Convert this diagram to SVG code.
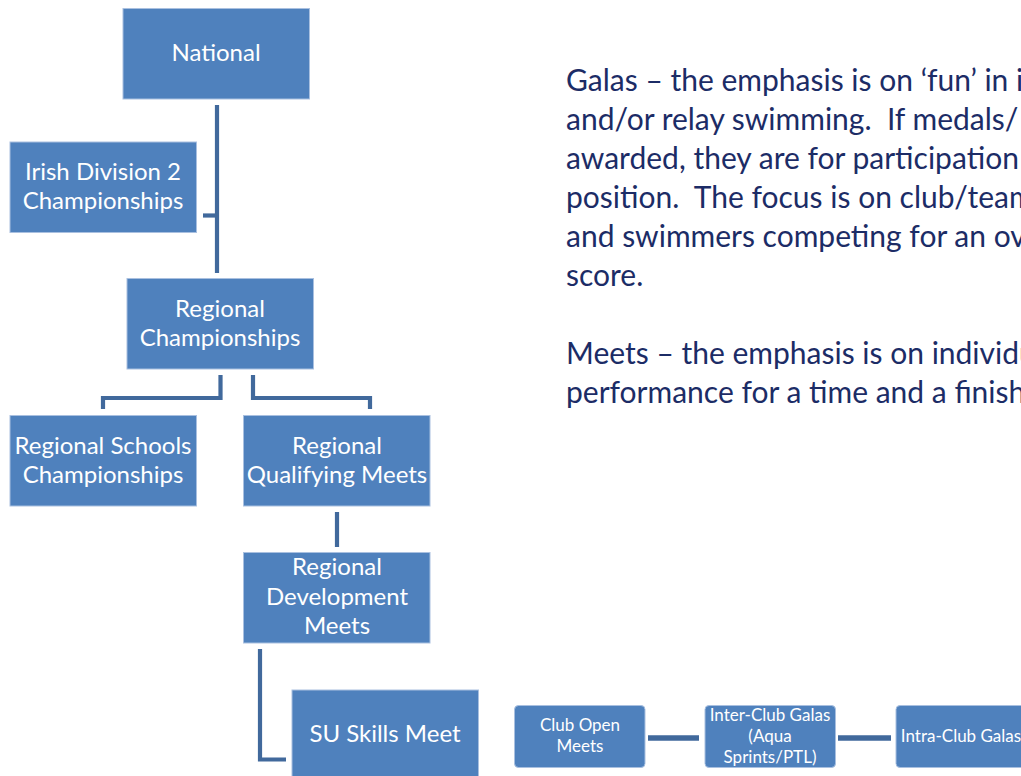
<svg xmlns="http://www.w3.org/2000/svg" width="1021" height="776" viewBox="0 0 1021 776">
<style>
.box{fill:#4F81BD;stroke:#A9C0E0;stroke-width:1}
.lbl{font-family:Lato,"Liberation Sans",sans-serif;font-size:24px;fill:#FFFFFF;text-anchor:middle}
.sm{font-size:17px}
.con{fill:none;stroke:#41699C;stroke-width:4.2;stroke-linejoin:miter}
.conb{fill:none;stroke:#41699C;stroke-width:5.5}
.para{font-family:Lato,"Liberation Sans",sans-serif;font-size:30px;fill:#1C2C66;white-space:pre}
</style>
<rect width="1021" height="776" fill="#FFFFFF"/>
<g id="connectors">
<path class="con" d="M217,105 V273"/>
<path class="con" d="M203,215.5 H217"/>
<path class="con" d="M220.5,375 V398 H103 V409"/>
<path class="con" d="M253,375 V398 H370 V409"/>
<path class="con" d="M337,512 V547"/>
<path class="con" d="M260,649 V759.5 H286"/>
<path class="conb" d="M648,738 H699"/>
<path class="conb" d="M838,738 H891"/>
</g>
<g id="national"><rect class="box" x="123" y="8.5" width="186.5" height="90.5"/><text class="lbl" x="216" y="61">National</text></g>
<g id="irish-div2"><rect class="box" x="10" y="142" width="186.5" height="90.5"/><text class="lbl" x="103" y="180">Irish Division 2</text><text class="lbl" x="103" y="209">Championships</text></g>
<g id="regional-champs"><rect class="box" x="127" y="278.5" width="186.5" height="90.5"/><text class="lbl" x="220" y="317">Regional</text><text class="lbl" x="220" y="346">Championships</text></g>
<g id="regional-schools"><rect class="box" x="10" y="415.5" width="186.5" height="90.5"/><text class="lbl" x="103" y="454">Regional Schools</text><text class="lbl" x="103" y="483">Championships</text></g>
<g id="regional-qualifying"><rect class="box" x="243.5" y="415.5" width="186.5" height="90.5"/><text class="lbl" x="337" y="454">Regional</text><text class="lbl" x="337" y="483">Qualifying Meets</text></g>
<g id="regional-development"><rect class="box" x="243.5" y="552.5" width="186.5" height="90.5"/><text class="lbl" x="337" y="575">Regional</text><text class="lbl" x="337" y="605">Development</text><text class="lbl" x="337" y="634">Meets</text></g>
<g id="su-skills"><rect class="box" x="292" y="690" width="186.5" height="92"/><text class="lbl" x="385" y="742">SU Skills Meet</text></g>
<g id="club-open"><rect class="box" x="514.5" y="705.5" width="130.5" height="62" rx="4"/><text class="lbl sm" x="580" y="731">Club Open</text><text class="lbl sm" x="580" y="752">Meets</text></g>
<g id="inter-club"><rect class="box" x="705" y="705.5" width="130.5" height="62" rx="4"/><text class="lbl sm" x="770" y="721">Inter-Club Galas</text><text class="lbl sm" x="770" y="742">(Aqua</text><text class="lbl sm" x="770" y="763">Sprints/PTL)</text></g>
<g id="intra-club"><rect class="box" x="896" y="705.5" width="130.5" height="62" rx="4"/><text class="lbl sm" x="961" y="742">Intra-Club Galas</text></g>
<g id="notes">
<text class="para" x="566" y="91" xml:space="preserve">Galas – the emphasis is on ‘fun’ in i</text>
<text class="para" x="566" y="130" xml:space="preserve">and/or relay swimming.  If medals/</text>
<text class="para" x="566" y="169" xml:space="preserve">awarded, they are for participation</text>
<text class="para" x="566" y="208" xml:space="preserve">position.  The focus is on club/team</text>
<text class="para" x="566" y="247" xml:space="preserve">and swimmers competing for an ov</text>
<text class="para" x="566" y="286" xml:space="preserve">score.</text>
<text class="para" x="566" y="364" xml:space="preserve">Meets – the emphasis is on individu</text>
<text class="para" x="566" y="403" xml:space="preserve">performance for a time and a finish</text>
</g>
</svg>
